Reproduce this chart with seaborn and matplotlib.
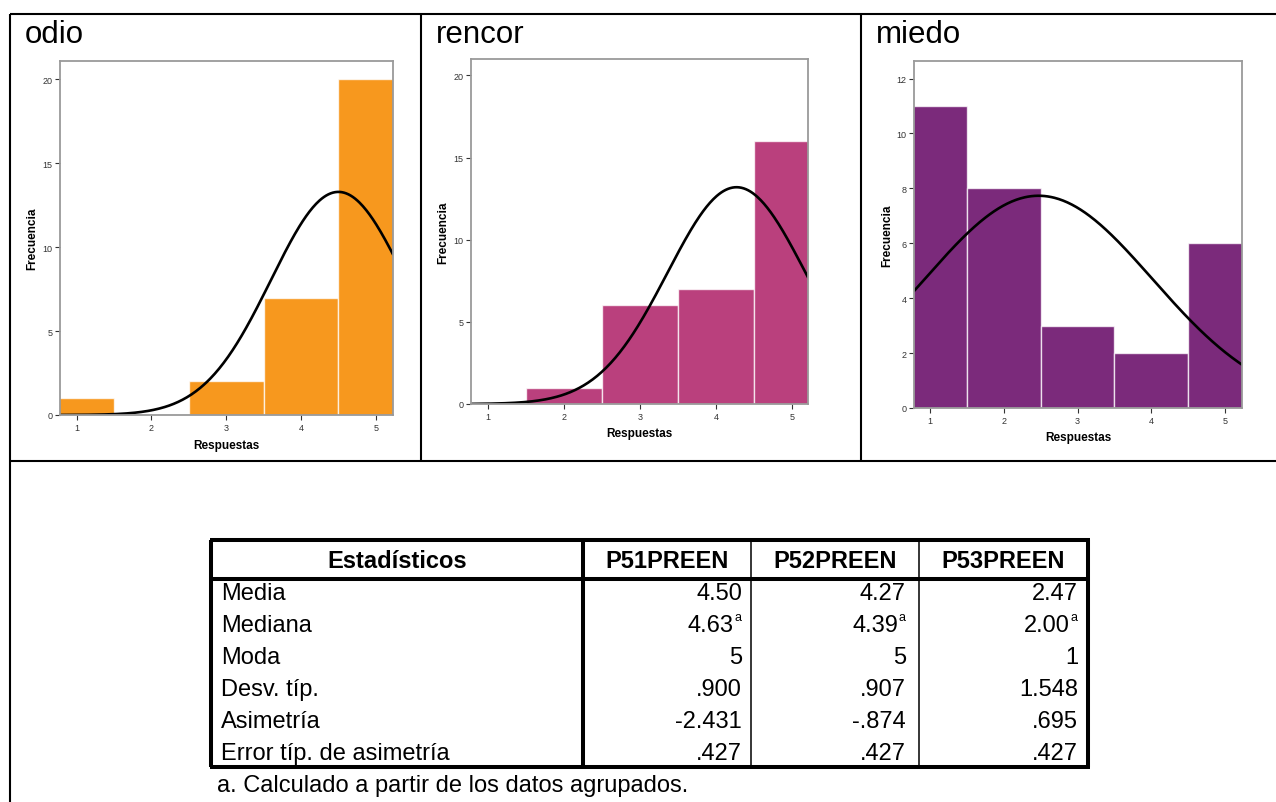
import numpy as np
import pandas as pd
import matplotlib
matplotlib.use("Agg")
import matplotlib.pyplot as plt
from matplotlib.lines import Line2D
import seaborn as sns

# ---- data -------------------------------------------------------------
respuestas = [1, 2, 3, 4, 5]
frec_odio = [1, 0, 2, 7, 20]
frec_rencor = [0, 1, 6, 7, 16]
frec_miedo = [11, 8, 3, 2, 6]

titulos = ["odio", "rencor", "miedo"]
colores = ["#F7981E", "#BA407D", "#7B2A7B"]

variables = ["P51PREEN", "P52PREEN", "P53PREEN"]
estadisticos = ["Media", "Mediana", "Moda", "Desv. típ.", "Asimetría",
                "Error típ. de asimetría"]
media = [4.50, 4.27, 2.47]
mediana = [4.63, 4.39, 2.00]
moda = [5, 5, 1]
desv_tip = [0.900, 0.907, 1.548]
asimetria = [-2.431, -0.874, 0.695]
error_asim = [0.427, 0.427, 0.427]
nota = "a. Calculado a partir de los datos agrupados."

# ---- figure set-up ----------------------------------------------------
sns.set_style("white")
plt.rcParams["font.family"] = ["Liberation Sans", "DejaVu Sans"]
plt.rcParams["text.color"] = "black"
plt.rcParams["axes.labelcolor"] = "black"

W, H = 1276, 803
fig = plt.figure(figsize=(W / 100, H / 100), dpi=100)
fig.patch.set_facecolor("white")


def fx(x):
    return x / W


def fy(y):
    return 1 - y / H


def rect(left, top, right, bottom):
    return [fx(left), fy(bottom), (right - left) / W, (bottom - top) / H]


def hline(y, x0, x1, lw, color="black"):
    fig.add_artist(Line2D([fx(x0), fx(x1)], [fy(y), fy(y)], lw=lw,
                          color=color, transform=fig.transFigure,
                          solid_capstyle="butt"))


def vline(x, y0, y1, lw, color="black"):
    fig.add_artist(Line2D([fx(x), fx(x)], [fy(y0), fy(y1)], lw=lw,
                          color=color, transform=fig.transFigure,
                          solid_capstyle="butt"))


# outer layout frame
hline(15, 10, W, 1.5)
vline(10, 15, H, 1.5)
vline(421, 15, 462, 1.5)
vline(861, 15, 462, 1.5)
hline(462, 10, W, 1.5)

# ---- histograms -------------------------------------------------------
paneles = [
    dict(frec=frec_odio, box=(60, 62, 393, 416), xlim=(0.777, 5.23),
         ylim=(0, 21.1), yticks=[0, 5, 10, 15, 20], title_x=25,
         ylab_x=32, xlab_y=446),
    dict(frec=frec_rencor, box=(471, 60, 808, 405), xlim=(0.777, 5.21),
         ylim=(0, 21.0), yticks=[0, 5, 10, 15, 20], title_x=436,
         ylab_x=443, xlab_y=434),
    dict(frec=frec_miedo, box=(914, 62, 1242, 409), xlim=(0.78, 5.23),
         ylim=(0, 12.64), yticks=[0, 2, 4, 6, 8, 10, 12], title_x=876,
         ylab_x=887, xlab_y=438),
]

for i, p in enumerate(paneles):
    left, top, right, bottom = p["box"]
    ax = fig.add_axes(rect(left, top, right, bottom))
    df = pd.DataFrame({"Respuestas": respuestas, "n": p["frec"]})
    sns.histplot(data=df, x="Respuestas", weights="n", discrete=True,
                 color=colores[i], alpha=1, edgecolor=(1, 1, 1, 0.75),
                 linewidth=1.0, ax=ax)

    # normal curve fitted with the mean and standard deviation
    n = sum(p["frec"])
    mu, sd = media[i], desv_tip[i]
    xs = np.linspace(p["xlim"][0], p["xlim"][1], 300)
    ys = n * np.exp(-0.5 * ((xs - mu) / sd) ** 2) / (sd * np.sqrt(2 * np.pi))
    sns.lineplot(x=xs, y=ys, color="black", lw=1.9, ax=ax)

    ax.set_xlim(*p["xlim"])
    ax.set_ylim(*p["ylim"])
    ax.set_xticks(respuestas)
    ax.set_yticks(p["yticks"])
    ax.tick_params(axis="both", labelsize=6.5, length=3.5, width=0.8,
                   color="#333333", labelcolor="#333333", pad=2,
                   direction="out", bottom=True, left=True)
    for s in ax.spines.values():
        s.set_color("#9a9a9a")
        s.set_linewidth(1.3)
    ax.set_xlabel("Respuestas", fontsize=8.5, fontweight="bold")
    ax.set_ylabel("Frecuencia", fontsize=8.5, fontweight="bold")
    ax.xaxis.set_label_coords(0.5, (bottom - p["xlab_y"]) / (bottom - top),
                              transform=ax.transAxes)
    ax.yaxis.set_label_coords((p["ylab_x"] - left) / (right - left), 0.5,
                              transform=ax.transAxes)
    ax.xaxis.label.set_va("center")
    ax.yaxis.label.set_va("center")

    fig.text(fx(p["title_x"]), fy(35), titulos[i], fontsize=22.5,
             ha="left", va="center")

# ---- statistics table -------------------------------------------------
tx0, tx1 = 211, 1088
ty0, ty1 = 541, 768
col_x = [211, 583, 751, 919, 1088]
head_y1 = 580
thick, thin = 2.9, 1.1

hline(ty0, tx0 - 1.5, tx1 + 1.5, thick)
hline(ty1, tx0 - 1.5, tx1 + 1.5, thick)
vline(tx0, ty0, ty1, thick)
vline(tx1, ty0, ty1, thick)
hline(head_y1, tx0, tx1, thick)
vline(col_x[1], ty0, ty1, thick)
vline(col_x[2], ty0, ty1, thin)
vline(col_x[3], ty0, ty1, thin)

fs = 17
head_cy = 561
fig.text(fx((col_x[0] + col_x[1]) / 2), fy(head_cy), "Estadísticos",
         fontsize=fs, fontweight="bold", ha="center", va="center")
for j, v in enumerate(variables):
    fig.text(fx((col_x[j + 1] + col_x[j + 2]) / 2), fy(head_cy), v,
             fontsize=fs, fontweight="bold", ha="center", va="center")


def fmt(v, dec):
    s = f"{abs(v):.{dec}f}"
    if s.startswith("0"):
        s = s[1:]
    return ("-" if v < 0 else "") + s


filas = [
    [f"{v:.2f}" for v in media],
    [f"{v:.2f}" for v in mediana],
    [str(v) for v in moda],
    [fmt(v, 3) for v in desv_tip],
    [fmt(v, 3) for v in asimetria],
    [fmt(v, 3) for v in error_asim],
]
val_right = [742, 906, 1078]
row_y = [594, 626, 658, 690, 722, 754]

for r, (lab, vals) in enumerate(zip(estadisticos, filas)):
    fig.text(fx(221), fy(row_y[r]), lab, fontsize=fs, ha="left",
             va="center")
    for j, s in enumerate(vals):
        if estadisticos[r] == "Mediana":
            fig.text(fx(val_right[j] - 8), fy(row_y[r]), s, fontsize=fs,
                     ha="right", va="center")
            fig.text(fx(val_right[j] - 7.5), fy(row_y[r] - 8), "a",
                     fontsize=9, ha="left", va="center")
        else:
            fig.text(fx(val_right[j]), fy(row_y[r]), s, fontsize=fs,
                     ha="right", va="center")

fig.text(fx(217), fy(786), nota, fontsize=fs, ha="left", va="center")

fig.savefig("out.png", dpi=100, facecolor="white")
